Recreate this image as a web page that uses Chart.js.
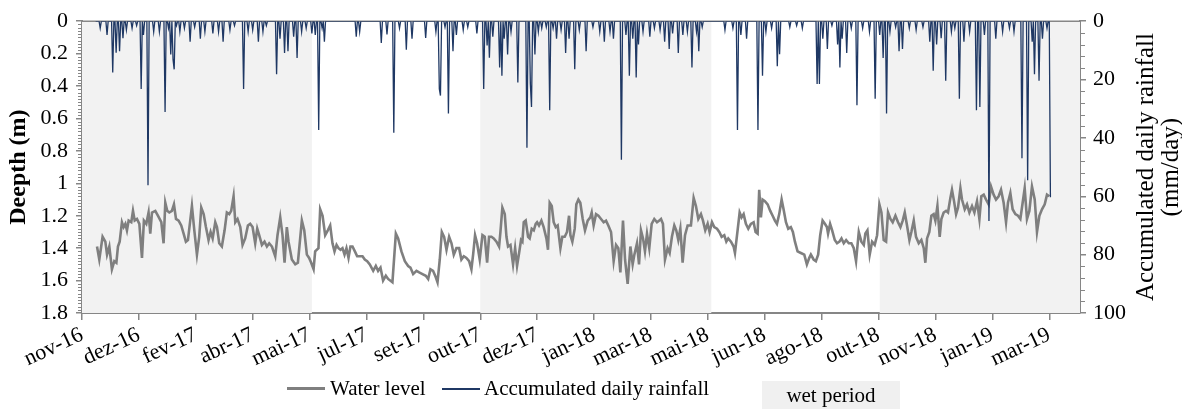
<!DOCTYPE html>
<html>
<head>
<meta charset="utf-8">
<script src="https://cdn.jsdelivr.net/npm/chart.js@4.4.1/dist/chart.umd.min.js"></script>
<style>
  body { margin: 0; background: #fff; }
  #wrap { position: relative; width: 1182px; height: 410px; font-family: "Liberation Serif", "Times New Roman", serif; }
  canvas { display: block; }
  .legend { position: absolute; top: 376px; font-size: 21px; line-height: 24px; color: #000; white-space: nowrap; }
  .swatch { position: absolute; }
</style>
</head>
<body>
<div id="wrap">
  <canvas id="chart" width="1182" height="410"></canvas>
  <div class="swatch" style="left:287px;top:387px;width:38px;height:2.5px;background:#7f7f7f"></div>
  <div class="legend" style="left:330px">Water level</div>
  <div class="swatch" style="left:442px;top:388px;width:38px;height:1.5px;background:#1f3864"></div>
  <div class="legend" style="left:484px">Accumulated daily rainfall</div>
  <div class="legend" style="left:762px;top:381px;width:138px;height:28px;line-height:28px;text-align:center;background:#f0f0f0">wet period</div>
</div>
<script>
// x axis is in days counted from the first tick (nov-16)
const tickDays = [0, 50, 100, 150, 200, 250, 300, 350, 400, 450, 500, 550, 600, 650, 700, 750, 800, 850]
const tickLabels = ["nov-16", "dez-16", "fev-17", "abr-17", "mai-17", "jul-17", "set-17", "out-17", "dez-17",
  "jan-18", "mar-18", "mai-18", "jun-18", "ago-18", "out-18", "nov-18", "jan-19", "mar-19"]

// wet periods (grey bands)
const wetStart = [0, 350, 701]
const wetEnd = [202, 553, 877]

// water level (depth, m)
const waterDay = [
  13.2, 15.2, 18.1, 20.5, 22.0, 24.0, 26.3, 28.4, 30.2, 31.6, 33.1, 35.1, 36.6, 38.1, 39.5, 41.0, 43.3, 44.8, 46.3, 48.3,
  50.4, 52.7, 54.4, 56.5, 58.5, 60.0, 61.5, 64.4, 66.7, 69.7, 71.7, 73.2, 74.9, 76.7, 79.0, 80.8, 82.6, 84.9, 87.2, 89.3,
  91.3, 93.1, 95.1, 96.6, 98.7, 101.0, 103.0, 104.8, 106.9, 108.9, 111.2, 113.0, 114.8, 117.1, 118.6, 120.6, 122.9, 125.3, 127.3, 129.4,
  131.1, 133.2, 134.7, 136.7, 139.1, 141.1, 143.4, 145.8, 147.8, 149.9, 152.2, 154.0, 155.7, 158.1, 160.4, 162.5, 164.5, 166.9, 169.8, 171.8,
  174.2, 176.2, 178.0, 180.0, 181.5, 184.4, 187.4, 189.7, 193.2, 195.3, 197.6, 199.6, 201.4, 203.5, 204.9, 207.8, 209.3, 211.4, 213.7, 216.0,
  218.1, 220.1, 221.9, 223.7, 225.4, 227.2, 228.9, 230.7, 232.4, 234.2, 235.9, 237.7, 239.8, 241.8, 244.1, 246.5, 248.5, 250.6, 252.9, 255.9,
  258.2, 260.2, 262.3, 264.6, 267.0, 269.0, 272.8, 275.8, 277.8, 280.7, 283.7, 286.6, 288.6, 291.0, 293.9, 296.3, 299.2, 302.1, 304.2, 306.2,
  308.5, 310.9, 312.4, 314.4, 316.2, 318.2, 320.3, 322.6, 324.7, 326.7, 329.0, 331.4, 333.4, 335.5, 337.8, 340.2, 342.2, 343.7, 345.4, 347.2,
  349.5, 351.9, 353.9, 356.0, 357.7, 359.8, 361.8, 364.2, 366.5, 367.7, 369.4, 371.5, 373.0, 374.4, 376.5, 378.8, 380.6, 382.3, 384.1, 385.8,
  387.0, 388.2, 389.9, 392.0, 393.4, 395.2, 397.0, 398.7, 399.9, 401.6, 403.7, 405.7, 408.1, 409.5, 411.0, 412.8, 414.5, 416.3, 418.0, 420.4,
  422.1, 424.2, 426.2, 428.0, 429.2, 430.9, 433.0, 434.4, 436.2, 437.9, 440.0, 442.0, 444.4, 446.7, 447.9, 449.6, 451.7, 453.8, 456.1, 458.4,
  460.5, 462.5, 464.9, 467.2, 469.3, 471.3, 473.1, 475.4, 477.2, 479.5, 481.9, 483.9, 485.4, 487.7, 489.5, 491.2, 493.0, 494.7, 496.5, 498.5,
  500.6, 502.9, 505.3, 507.3, 508.8, 510.5, 512.3, 514.6, 516.4, 518.4, 520.5, 522.2, 524.0, 525.8, 527.8, 529.9, 532.2, 535.1, 537.5, 539.5,
  541.6, 543.9, 545.7, 547.7, 549.8, 551.5, 553.6, 555.6, 558.0, 560.0, 562.1, 564.4, 566.2, 567.9, 570.3, 572.6, 573.8, 576.1, 577.9, 579.6,
  581.4, 583.4, 585.5, 587.8, 590.2, 591.9, 593.7, 595.1, 596.6, 598.1, 600.1, 602.5, 604.8, 606.9, 608.9, 610.7, 612.7, 614.8, 616.5, 618.6,
  620.6, 622.9, 624.7, 626.5, 628.8, 631.7, 634.7, 637.0, 639.1, 640.5, 642.9, 644.9, 646.9, 648.7, 650.8, 652.8, 654.6, 655.6, 657.4, 659.2,
  661.5, 663.5, 665.6, 667.4, 669.4, 671.5, 673.8, 676.1, 678.2, 680.2, 682.6, 684.9, 687.0, 688.4, 690.2, 692.2, 694.3, 696.6, 698.7, 700.7,
  702.5, 704.5, 706.6, 708.3, 710.4, 712.4, 714.8, 717.1, 719.2, 721.2, 723.0, 725.0, 727.1, 728.8, 730.9, 732.9, 735.3, 737.6, 739.7, 741.1,
  742.6, 744.6, 746.4, 748.4, 749.9, 751.7, 753.7, 755.2, 757.2, 759.3, 761.0, 763.1, 764.5, 766.3, 768.1, 769.8, 771.9, 773.3, 775.7, 777.7,
  779.8, 782.1, 784.2, 786.5, 788.6, 790.3, 792.4, 794.4, 796.7, 798.8, 801.1, 803.2, 805.5, 807.6, 809.9, 812.0, 813.7, 815.8, 817.8, 820.2,
  822.5, 824.6, 826.6, 828.4, 830.4, 832.5, 834.8, 837.2, 839.2, 841.3, 843.6, 846.0, 848.0, 850.0
]
const waterDepth = [
  1.39, 1.47, 1.33, 1.36, 1.44, 1.39, 1.53, 1.48, 1.49, 1.39, 1.36, 1.24, 1.27, 1.25, 1.29, 1.23, 1.24, 1.17, 1.23, 1.22,
  1.25, 1.46, 1.23, 1.25, 1.18, 1.31, 1.18, 1.17, 1.20, 1.24, 1.37, 1.12, 1.17, 1.18, 1.17, 1.13, 1.22, 1.23, 1.26, 1.31,
  1.36, 1.35, 1.23, 1.14, 1.29, 1.44, 1.33, 1.15, 1.19, 1.27, 1.35, 1.30, 1.34, 1.24, 1.27, 1.37, 1.39, 1.29, 1.18, 1.19,
  1.17, 1.08, 1.24, 1.22, 1.27, 1.38, 1.34, 1.26, 1.25, 1.27, 1.37, 1.28, 1.32, 1.38, 1.36, 1.39, 1.37, 1.39, 1.45, 1.32,
  1.21, 1.32, 1.49, 1.27, 1.36, 1.47, 1.50, 1.49, 1.23, 1.29, 1.44, 1.46, 1.49, 1.53, 1.42, 1.40, 1.16, 1.20, 1.32, 1.29,
  1.26, 1.37, 1.42, 1.38, 1.40, 1.41, 1.40, 1.44, 1.40, 1.46, 1.39, 1.39, 1.42, 1.45, 1.45, 1.45, 1.47, 1.48, 1.50, 1.54,
  1.51, 1.54, 1.52, 1.60, 1.57, 1.59, 1.61, 1.31, 1.34, 1.42, 1.48, 1.51, 1.52, 1.56, 1.54, 1.55, 1.56, 1.57, 1.59, 1.53,
  1.54, 1.58, 1.61, 1.47, 1.30, 1.33, 1.41, 1.33, 1.37, 1.44, 1.40, 1.40, 1.47, 1.45, 1.46, 1.48, 1.53, 1.44, 1.32, 1.37,
  1.47, 1.32, 1.33, 1.49, 1.33, 1.33, 1.34, 1.36, 1.39, 1.30, 1.15, 1.19, 1.33, 1.39, 1.38, 1.50, 1.40, 1.51, 1.43, 1.35,
  1.36, 1.24, 1.23, 1.33, 1.34, 1.28, 1.29, 1.25, 1.24, 1.26, 1.23, 1.27, 1.34, 1.41, 1.12, 1.14, 1.24, 1.27, 1.26, 1.40,
  1.33, 1.33, 1.30, 1.20, 1.32, 1.36, 1.28, 1.13, 1.10, 1.12, 1.22, 1.29, 1.23, 1.21, 1.18, 1.26, 1.19, 1.20, 1.22, 1.24,
  1.23, 1.26, 1.30, 1.48, 1.38, 1.40, 1.55, 1.23, 1.47, 1.62, 1.39, 1.50, 1.44, 1.37, 1.50, 1.29, 1.34, 1.42, 1.31, 1.40,
  1.25, 1.22, 1.24, 1.23, 1.22, 1.25, 1.47, 1.40, 1.43, 1.33, 1.26, 1.29, 1.35, 1.28, 1.49, 1.32, 1.26, 1.26, 1.09, 1.14,
  1.22, 1.19, 1.23, 1.29, 1.25, 1.30, 1.24, 1.27, 1.28, 1.30, 1.33, 1.32, 1.36, 1.34, 1.36, 1.39, 1.43, 1.29, 1.18, 1.21,
  1.19, 1.25, 1.28, 1.25, 1.24, 1.30, 1.31, 1.04, 1.21, 1.10, 1.11, 1.13, 1.17, 1.20, 1.23, 1.25, 1.19, 1.10, 1.16, 1.24,
  1.28, 1.27, 1.30, 1.36, 1.42, 1.43, 1.44, 1.50, 1.46, 1.44, 1.47, 1.48, 1.44, 1.32, 1.23, 1.25, 1.27, 1.31, 1.25, 1.29,
  1.35, 1.37, 1.36, 1.34, 1.37, 1.35, 1.37, 1.37, 1.40, 1.48, 1.30, 1.36, 1.38, 1.31, 1.29, 1.44, 1.36, 1.38, 1.32, 1.13,
  1.18, 1.35, 1.36, 1.18, 1.22, 1.24, 1.20, 1.24, 1.27, 1.23, 1.18, 1.26, 1.35, 1.30, 1.23, 1.33, 1.37, 1.35, 1.40, 1.49,
  1.34, 1.30, 1.20, 1.19, 1.23, 1.14, 1.33, 1.22, 1.18, 1.17, 1.18, 1.09, 1.04, 1.11, 1.19, 1.15, 1.03, 1.10, 1.16, 1.13,
  1.18, 1.14, 1.18, 1.11, 1.22, 1.08, 1.07, 1.10, 1.13, 1.02, 1.07, 1.10, 1.08, 1.04, 1.12, 1.24, 1.12, 1.06, 1.16, 1.19,
  1.20, 1.22, 1.12, 1.03, 1.22, 1.17, 1.02, 1.10, 1.30, 1.20, 1.16, 1.13, 1.07, 1.08
]

// daily rainfall (mm/day); days not listed had no rain
const rainFirstDay = 12
const rainLastDay = 851
const rainDay = [
  16, 22, 27, 30, 33, 36, 39, 44, 48, 52, 54, 58, 63, 68, 73, 76, 78, 80, 81, 83,
  86, 90, 95, 99, 104, 108, 115, 120, 124, 130, 134, 142, 146, 150, 155, 159, 162, 171, 174, 178,
  181, 186, 189, 193, 197, 202, 205, 208, 211, 213, 241, 244, 263, 268, 274, 279, 285, 290, 302, 311,
  314, 315, 319, 322, 326, 329, 335, 339, 347, 353, 356, 358, 361, 367, 369, 371, 374, 377, 383, 391,
  394, 395, 398, 401, 404, 408, 411, 414, 417, 421, 425, 428, 433, 437, 443, 449, 455, 459, 464, 467,
  474, 478, 481, 484, 487, 489, 493, 499, 503, 508, 512, 516, 519, 524, 528, 532, 536, 540, 542, 545,
  565, 572, 576, 579, 584, 594, 598, 601, 606, 611, 613, 622, 628, 633, 646, 648, 651, 655, 659, 664,
  666, 668, 672, 676, 681, 686, 692, 697, 701, 704, 707, 710, 715, 718, 721, 727, 733, 739, 745, 748,
  751, 755, 759, 764, 767, 771, 775, 780, 786, 789, 793, 797, 803, 809, 815, 819, 826, 831, 835, 837,
  841, 844, 848, 851
]
const rainMm = [
  2.4, 4.7, 17.6, 10.8, 10.3, 5.8, 3, 2.4, 1.5, 23.2, 4.7, 56.2, 3.6, 3.6, 31.1, 2.4, 11.4, 13.1, 16.5, 1.5,
  3.6, 2.4, 7, 2, 6, 3.6, 4.2, 3.6, 7, 3, 1.5, 23.2, 3.6, 3, 7, 3.6, 1.5, 18.2, 6, 10.9,
  10.3, 5.3, 12.6, 3.6, 2.4, 4.2, 4.7, 37.3, 2.4, 7, 5.3, 3.6, 7.5, 4.5, 38.2, 2.4, 9.8, 6, 5.7, 3.6,
  23.2, 25.5, 2, 31.6, 10.3, 4.7, 3, 2, 4.2, 23.2, 8.3, 12.5, 5.3, 15.9, 18.7, 6, 11.4, 3.6, 21, 43.4,
  21.5, 29.4, 11.4, 3.6, 2.4, 2, 30.5, 2.4, 6, 3, 10.9, 6, 16.5, 3, 10.3, 2, 3.6, 7, 3.6, 6,
  47.5, 4.7, 18.7, 6, 19.3, 8, 3.6, 5.3, 2.4, 3, 7, 9.5, 4.2, 10.9, 4.7, 3.6, 15.9, 3.6, 10.3, 2,
  3, 2.4, 37.3, 4.7, 6, 37.3, 18.7, 3.6, 2.4, 15.4, 11.3, 2, 1.5, 2.4, 21.5, 21.5, 6, 9.5, 1.5, 8,
  15.9, 6, 10.9, 2.4, 28.8, 2.4, 3.6, 26.6, 4.7, 12.6, 31.6, 3.6, 2, 10.3, 9.5, 2.4, 3, 2, 7, 17,
  8, 5.8, 20.4, 3.6, 2.4, 26.6, 7, 3.6, 30.5, 29.4, 4.7, 68.5, 6, 3.6, 2.4, 3.6, 47, 54.5, 7, 18.2,
  20.4, 6, 2.4, 60.3
]

const serif = "'Liberation Serif', 'Times New Roman', serif"
const axisGray = "#868686"

const rainByDay = new Map(rainDay.map((d, i) => [d, rainMm[i]]))
const rainSeries = []
for (let d = rainFirstDay; d <= rainLastDay; d++) {
  rainSeries.push({ x: d, y: rainByDay.get(d) || 0 })
}
const waterSeries = waterDay.map((d, i) => ({ x: d, y: waterDepth[i] }))

// grey wet-period bands, minor ticks and the right-hand axis title
const decorations = {
  id: "decorations",
  beforeDatasetsDraw(chart) {
    const { ctx, chartArea, scales } = chart
    ctx.save()
    ctx.fillStyle = "#f2f2f2"
    wetStart.forEach((s, i) => {
      const x0 = scales.x.getPixelForValue(s)
      const x1 = scales.x.getPixelForValue(wetEnd[i])
      ctx.fillRect(x0, chartArea.top, x1 - x0, chartArea.bottom - chartArea.top)
    })
    ctx.strokeStyle = axisGray
    ctx.lineWidth = 1.5
    ctx.beginPath()
    ctx.moveTo(chartArea.left, chartArea.top)
    ctx.lineTo(chartArea.right, chartArea.top)
    ctx.stroke()
    ctx.restore()
  },
  afterDraw(chart) {
    const { ctx, chartArea, scales } = chart
    ctx.save()
    ctx.strokeStyle = axisGray
    ctx.lineWidth = 1
    ctx.beginPath()
    for (let k = 1; k < 90; k++) {
      if (k % 10 === 0) continue
      const y = Math.round(scales.y.getPixelForValue(k * 0.02)) + 0.5
      ctx.moveTo(chartArea.left - 4, y)
      ctx.lineTo(chartArea.left, y)
    }
    for (let k = 1; k < 25; k++) {
      if (k % 5 === 0) continue
      const y = Math.round(scales.y2.getPixelForValue(k * 4)) + 0.5
      ctx.moveTo(chartArea.right, y)
      ctx.lineTo(chartArea.right + 5, y)
    }
    ctx.stroke()

    const cy = (chartArea.top + chartArea.bottom) / 2
    ctx.fillStyle = "#000"
    ctx.font = "25px " + serif
    ctx.textAlign = "center"
    ctx.textBaseline = "middle"
    ctx.translate(1146, cy)
    ctx.rotate(-Math.PI / 2)
    ctx.fillText("Accumulated daily rainfall", 0, 0)
    ctx.fillText("(mm/day)", 0, 25)
    ctx.restore()
  },
}

new Chart(document.getElementById("chart"), {
  type: "line",
  data: {
    datasets: [
      {
        label: "Accumulated daily rainfall",
        data: rainSeries,
        yAxisID: "y2",
        borderColor: "#1f3864",
        borderWidth: 1.3,
        pointRadius: 0,
        order: 0,
      },
      {
        label: "Water level",
        data: waterSeries,
        yAxisID: "y",
        borderColor: "#7f7f7f",
        borderWidth: 2.6,
        pointRadius: 0,
        order: 1,
      },
    ],
  },
  options: {
    responsive: false,
    animation: false,
    layout: { padding: { top: 16, left: 0, right: 0, bottom: 0 } },
    plugins: { legend: { display: false }, tooltip: { enabled: false } },
    scales: {
      x: {
        type: "linear",
        min: 0,
        max: 877,
        afterBuildTicks: (s) => { s.ticks = tickDays.map((v) => ({ value: v })) },
        afterFit: (s) => { s.height = 97 },
        ticks: {
          autoSkip: false,
          minRotation: 25,
          maxRotation: 25,
          padding: 2,
          color: "#000",
          font: { family: serif, size: 22 },
          callback: (v, i) => tickLabels[i],
        },
        grid: { drawOnChartArea: false, tickLength: 7, color: axisGray, lineWidth: 1.5 },
        border: { color: axisGray, width: 2 },
      },
      y: {
        position: "left",
        reverse: true,
        min: 0,
        max: 1.8,
        afterFit: (s) => { s.width = 82 },
        ticks: {
          stepSize: 0.2,
          padding: 8,
          color: "#000",
          font: { family: serif, size: 22 },
          callback: (v) => String(Math.round(v * 10) / 10),
        },
        grid: { drawOnChartArea: false, tickLength: 6, color: axisGray, lineWidth: 1.5 },
        border: { color: axisGray, width: 2 },
        title: {
          display: true,
          text: "Deepth (m)",
          color: "#000",
          font: { family: serif, size: 24, weight: "bold" },
          padding: { top: 4, bottom: 0 },
        },
      },
      y2: {
        position: "right",
        reverse: true,
        min: 0,
        max: 100,
        afterFit: (s) => { s.width = 102 },
        ticks: {
          stepSize: 20,
          padding: 7,
          color: "#000",
          font: { family: serif, size: 22 },
        },
        grid: { drawOnChartArea: false, tickLength: 6, color: axisGray, lineWidth: 1.5 },
        border: { color: axisGray, width: 2 },
      },
    },
  },
  plugins: [decorations],
})
</script>
</body>
</html>
